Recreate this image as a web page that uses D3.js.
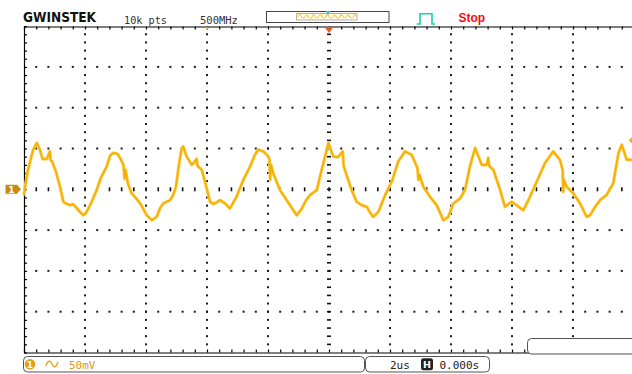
<!DOCTYPE html>
<html><head><meta charset="utf-8">
<script src="https://cdn.jsdelivr.net/npm/d3@7"></script>
<style>body{margin:0;background:#fff;overflow:hidden} svg{display:block}</style>
</head><body>
<svg id="c" width="632" height="374"></svg>
<script>
// ---- data (time in µs, CH1 in mV) ----
const timeUs = [-10.00,-9.87,-9.70,-9.58,-9.48,-9.39,-9.25,-9.15,-9.13,-9.08,
 -8.95,-8.82,-8.71,-8.59,-8.49,-8.39,-8.27,-8.16,-8.06,-7.97,
 -7.80,-7.62,-7.48,-7.29,-7.18,-7.09,-6.98,-6.91,-6.82,-6.74,
 -6.70,-6.67,-6.59,-6.47,-6.33,-6.20,-6.10,-5.98,-5.81,-5.65,
 -5.54,-5.43,-5.21,-5.11,-5.02,-4.92,-4.83,-4.78,-4.67,-4.50,
 -4.43,-4.34,-4.31,-4.17,-4.01,-3.90,-3.79,-3.67,-3.57,-3.41,
 -3.25,-3.03,-2.81,-2.59,-2.43,-2.32,-2.15,-1.99,-1.95,-1.93,
 -1.90,-1.83,-1.61,-1.39,-1.17,-1.06,-0.89,-0.75,-0.62,-0.40,
 -0.24,-0.13,-0.02,0.14,0.30,0.45,0.48,0.52,0.74,0.91,
 1.07,1.24,1.34,1.45,1.62,1.84,2.06,2.27,2.49,2.71,
 2.88,2.90,2.93,2.97,3.09,3.31,3.53,3.75,3.91,4.08,
 4.30,4.46,4.62,4.79,5.01,5.17,5.22,5.25,5.39,5.61,
 5.77,5.99,6.15,6.37,6.59,6.81,7.08,7.35,7.57,7.66,
 7.68,7.70,7.79,8.01,8.23,8.45,8.56,8.72,8.89,9.10,
 9.32,9.49,9.60,9.76,9.90];
const ch1mV = [-5.8,23.8,48.5,56.8,48.5,37.0,37.4,46.4,35.7,34.4,
 21.4,3.2,-15.3,-18.1,-19.4,-18.1,-23.1,-28.0,-31.7,-29.3,
 -16.9,-0.9,14.0,27.9,41.1,44.4,44.2,42.3,36.2,29.9,
 12.7,23.8,6.5,-4.9,-10.7,-16.9,-23.1,-31.7,-37.9,-33.8,
 -23.1,-17.3,-13.2,-7.0,2.8,30.0,50.6,52.6,40.2,30.0,
 32.5,37.4,28.8,23.8,1.2,-15.3,-18.1,-15.7,-13.2,-17.3,
 -23.5,-9.1,11.5,27.9,42.3,48.5,46.4,40.2,36.2,11.5,
 30.0,19.8,-0.9,-13.2,-25.6,-31.7,-23.5,-13.2,-7.0,-0.9,
 23.8,40.2,56.8,40.2,39.5,46.4,28.8,23.8,-0.9,-15.3,
 -19.4,-21.5,-28.0,-33.8,-27.7,-7.0,9.4,34.1,46.4,42.3,
 27.9,26.3,11.5,17.7,3.2,-9.1,-19.4,-37.9,-33.8,-17.3,
 -11.1,-0.9,27.9,50.6,30.0,30.0,38.6,28.8,23.8,-0.9,
 -21.5,-15.3,-19.4,-25.6,-9.1,9.4,32.1,46.4,36.2,23.8,
 -3.0,11.5,3.2,-4.9,-17.3,-33.8,-31.7,-21.9,-13.2,-7.0,
 7.4,44.4,54.7,36.2,36.2];
const timeDivs = [-10,-8,-6,-4,-2,0,2,4,6,8,10];
const voltDivs = [-200,-150,-100,-50,0,50,100,150,200];
const headerTexts = {pts:"10k pts", bw:"500MHz", state:"Stop", logo:"GWINSTEK"};
const statusTexts = {ch:"1", scale:"50mV", timebase:"2us", hpos:"0.000s"};

// ---- scales ----
const x = d3.scaleLinear().domain([-10,10]).range([24,634]);
const y = d3.scaleLinear().domain([-200,200]).range([352.5,26.1]);
const minorT = d3.range(-10,10.001,0.4).map(v=>+v.toFixed(2));
const minorV = d3.range(-200,200.001,10);

const svg = d3.select("#c");
const TRACE = "#F6B000";

// ---- grid dots ----
const g = svg.append("g");
timeDivs.filter(t=>t!==-10 && t!==10 && t!==0).forEach(t=>{
  g.selectAll(null).data(minorV.filter(v=>v>-200&&v<200)).enter().append("rect")
   .attr("x",x(t)-1).attr("y",d=>y(d)-1).attr("width",2).attr("height",2).attr("fill","#1c1c1c");
});
voltDivs.filter(v=>v!==-200 && v!==200 && v!==0).forEach(v=>{
  g.selectAll(null).data(minorT.filter(t=>t>-10&&t<10)).enter().append("rect")
   .attr("x",d=>x(d)-1).attr("y",y(v)-1).attr("width",2).attr("height",2).attr("fill","#1c1c1c");
});
// centre cross (ticked)
g.selectAll(null).data(minorV.filter(v=>v>-200&&v<200)).enter().append("rect")
  .attr("x",x(0)-2).attr("y",d=>y(d)-0.75).attr("width",4).attr("height",1.6).attr("fill","#111");
g.selectAll(null).data(minorT.filter(t=>t>-10&&t<10)).enter().append("rect")
  .attr("x",d=>x(d)-0.75).attr("y",y(0)-2).attr("width",1.6).attr("height",4).attr("fill","#111");

// ---- frame axes ----
function styleAxis(sel){ sel.selectAll("path.domain").attr("stroke","#000").attr("stroke-width",1.2);
  sel.selectAll(".tick line").attr("stroke","#000").attr("stroke-width",1.2); sel.selectAll("text").remove(); }
svg.append("g").attr("transform","translate(0,26.5)")
  .call(d3.axisBottom(x).tickValues(minorT).tickSize(3).tickSizeOuter(0).tickFormat(""))
  .call(styleAxis);
svg.append("g").attr("transform","translate(0,352.5)")
  .call(d3.axisTop(x).tickValues(minorT).tickSize(3).tickSizeOuter(0).tickFormat(""))
  .call(styleAxis);
svg.append("g").attr("transform","translate(24,0)")
  .call(d3.axisRight(y).tickValues(minorV).tickSize(3).tickSizeOuter(0).tickFormat(""))
  .call(styleAxis);

// ---- trace ----
const pts = timeUs.map((t,i)=>({t, v:ch1mV[i]}));
const line = d3.line().x(d=>x(d.t)).y(d=>y(d.v));
svg.append("path").datum(pts).attr("d",line).attr("fill","none")
  .attr("stroke","#FCD160").attr("stroke-width",3.2).attr("stroke-linejoin","round").attr("stroke-linecap","round");
svg.append("path").datum(pts).attr("d",line).attr("fill","none")
  .attr("stroke",TRACE).attr("stroke-width",1.8).attr("stroke-linejoin","round").attr("stroke-linecap","round");
// off-screen indicator at right edge
svg.append("path").attr("d",`M${x(9.82)},${y(60)} L632,${y(64)} L632,${y(56)} Z`).attr("fill",TRACE);

// trigger position marker (top)
svg.append("path").attr("d",`M${x(0)-4.5},27 L${x(0)+4.5},27 L${x(0)},33 Z`).attr("fill","#F0561E");
svg.append("rect").attr("x",x(-4)-1).attr("y",27).attr("width",2).attr("height",2).attr("fill","#F0A040");

// CH1 ground marker (left)
const gy = y(0);
svg.append("path").attr("d",`M5.5,${gy-4.5} H17 L21,${gy} L17,${gy+4.5} H5.5 Z`).attr("fill","#C98A14");
svg.append("text").attr("x",11.5).attr("y",gy+3.5).attr("text-anchor","middle")
  .attr("font-family","DejaVu Sans").attr("font-weight","bold").attr("font-size",9).attr("fill","#fff").text(statusTexts.ch);

// ---- header ----
svg.append("text").attr("x",23).attr("y",21.5).attr("font-family","DejaVu Sans").attr("font-weight","bold")
  .attr("font-size",14).attr("textLength",73).attr("lengthAdjust","spacingAndGlyphs").attr("fill","#111").text(headerTexts.logo);
svg.append("text").attr("x",124).attr("y",23.5).attr("font-family","DejaVu Sans Mono").attr("font-size",10.2)
  .attr("fill","#333").text(headerTexts.pts);
svg.append("text").attr("x",200).attr("y",23.5).attr("font-family","DejaVu Sans Mono").attr("font-size",10.5)
  .attr("fill","#333").text(headerTexts.bw);
// memory bar
svg.append("rect").attr("x",266.5).attr("y",11.5).attr("width",122.5).attr("height",11).attr("fill","#fff").attr("stroke","#444");
svg.append("rect").attr("x",296.5).attr("y",13.5).attr("width",60.5).attr("height",6.5).attr("fill","#fffdf2").attr("stroke","#b0b0b0");
const mini = d3.scaleLinear().domain([-10,10]).range([298,356]);
svg.append("path").datum(pts).attr("d",d3.line().x(d=>mini(d.t)).y(d=>16.8-d.v*0.045))
  .attr("fill","none").attr("stroke",TRACE).attr("stroke-width",0.9);
svg.append("path").attr("d","M325.5,11 L330.5,11 L328,14.5 Z").attr("fill","#18C8C8");
// trigger icon
svg.append("path").attr("d","M416.7,24 H420 V13.8 H432 V24 H435").attr("fill","none")
  .attr("stroke","#10D8A0").attr("stroke-width",1.6);
svg.append("text").attr("x",458.5).attr("y",21.5).attr("font-family","Liberation Sans").attr("font-weight","bold")
  .attr("font-size",12).attr("fill","#F01010").text(headerTexts.state);

// ---- status bar ----
svg.append("rect").attr("x",527.5).attr("y",338.5).attr("width",120).attr("height",15.5).attr("rx",4)
  .attr("fill","#fff").attr("stroke","#555");
svg.append("rect").attr("x",23.5).attr("y",356.5).attr("width",341).attr("height",15.5).attr("rx",4)
  .attr("fill","#fff").attr("stroke","#555");
svg.append("rect").attr("x",365.5).attr("y",356.5).attr("width",124).attr("height",15.5).attr("rx",4)
  .attr("fill","#fff").attr("stroke","#555");
svg.append("circle").attr("cx",30).attr("cy",364.3).attr("r",5.3).attr("fill","#E39E1C");
svg.append("text").attr("x",30).attr("y",368).attr("text-anchor","middle").attr("font-family","DejaVu Sans")
  .attr("font-weight","bold").attr("font-size",9).attr("fill","#fff").text(statusTexts.ch);
svg.append("path").attr("d","M46,366 C48,360 50,360 52,364 C54,368 56,368 58,362").attr("fill","none")
  .attr("stroke","#E39E1C").attr("stroke-width",1.3);
svg.append("text").attr("x",69).attr("y",368.5).attr("font-family","DejaVu Sans Mono").attr("font-size",11)
  .attr("fill","#D9961A").text(statusTexts.scale);
svg.append("text").attr("x",390).attr("y",368.5).attr("font-family","DejaVu Sans Mono").attr("font-size",11)
  .attr("fill","#222").text(statusTexts.timebase);
svg.append("rect").attr("x",421).attr("y",358.3).attr("width",12).attr("height",12).attr("rx",2.5).attr("fill","#222");
svg.append("text").attr("x",427).attr("y",368).attr("text-anchor","middle").attr("font-family","DejaVu Sans")
  .attr("font-weight","bold").attr("font-size",9.5).attr("fill","#fff").text("H");
svg.append("text").attr("x",439.5).attr("y",368.5).attr("font-family","DejaVu Sans Mono").attr("font-size",11)
  .attr("fill","#222").text(statusTexts.hpos);
</script>
</body></html>
